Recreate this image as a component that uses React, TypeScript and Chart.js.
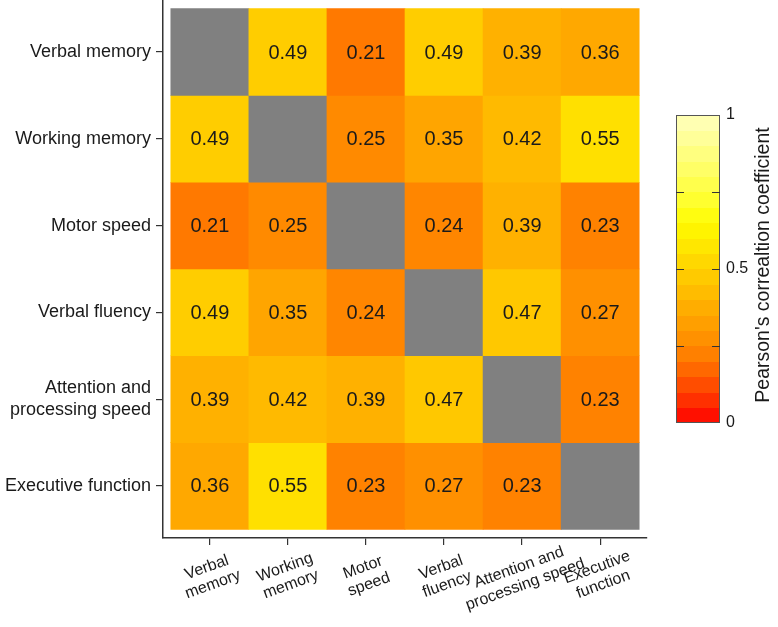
import { useEffect, useRef } from 'react';
import { Chart, registerables } from 'chart.js';

Chart.register(...registerables);

const rowLabels: (string | string[])[] = [
  'Verbal memory',
  'Working memory',
  'Motor speed',
  'Verbal fluency',
  ['Attention and', 'processing speed'],
  'Executive function',
];
const colLabels: string[][] = [
  ['Verbal', 'memory'],
  ['Working', 'memory'],
  ['Motor', 'speed'],
  ['Verbal', 'fluency'],
  ['Attention and', 'processing speed'],
  ['Executive', 'function'],
];

const rowVerbalMemory = [null, 0.49, 0.21, 0.49, 0.39, 0.36];
const rowWorkingMemory = [0.49, null, 0.25, 0.35, 0.42, 0.55];
const rowMotorSpeed = [0.21, 0.25, null, 0.24, 0.39, 0.23];
const rowVerbalFluency = [0.49, 0.35, 0.24, null, 0.47, 0.27];
const rowAttention = [0.39, 0.42, 0.39, 0.47, null, 0.23];
const rowExecutive = [0.36, 0.55, 0.23, 0.27, 0.23, null];
const matrix: (number | null)[][] = [
  rowVerbalMemory,
  rowWorkingMemory,
  rowMotorSpeed,
  rowVerbalFluency,
  rowAttention,
  rowExecutive,
];

const colorbarTicks = [0, 0.5, 1];
const colorbarInnerTicks = [0.25, 0.5, 0.75];
const colorbarTitle = "Pearson's correaltion coefficient";

const FONT = '"Liberation Sans", Arial, Helvetica, sans-serif';
const GRAY = '#808080';
const AXIS = '#333333';

const stops: [number, number, number, number][] = [
  [0.0, 255, 0, 0],
  [0.05, 255, 32, 0],
  [0.1, 255, 64, 0],
  [0.15, 255, 90, 0],
  [0.2, 255, 117, 0],
  [0.25, 255, 138, 0],
  [0.3, 255, 152, 0],
  [0.35, 255, 165, 0],
  [0.4, 255, 180, 0],
  [0.45, 255, 195, 0],
  [0.5, 255, 208, 0],
  [0.55, 255, 224, 0],
  [0.6, 255, 238, 0],
  [0.65, 255, 250, 0],
  [0.7, 255, 255, 32],
  [0.8, 255, 255, 90],
  [0.9, 255, 255, 140],
  [1.0, 255, 255, 190],
];

function heat(v: number): string {
  const t = Math.max(0, Math.min(1, v));
  for (let i = 0; i < stops.length - 1; i++) {
    const a = stops[i];
    const b = stops[i + 1];
    if (t >= a[0] && t <= b[0]) {
      const f = (t - a[0]) / (b[0] - a[0]);
      const r = Math.round(a[1] + (b[1] - a[1]) * f);
      const g = Math.round(a[2] + (b[2] - a[2]) * f);
      const bl = Math.round(a[3] + (b[3] - a[3]) * f);
      return `rgb(${r},${g},${bl})`;
    }
  }
  return 'rgb(255,255,190)';
}

const overlayPlugin = {
  id: 'overlay',
  afterDatasetsDraw(chart: any) {
    const ctx = chart.ctx as CanvasRenderingContext2D;
    const xs = chart.scales.x;
    const ys = chart.scales.y;
    ctx.save();
    // cell values
    ctx.fillStyle = '#1a1a1a';
    ctx.font = `20px ${FONT}`;
    ctx.textAlign = 'center';
    ctx.textBaseline = 'middle';
    matrix.forEach((row, i) => {
      row.forEach((v, j) => {
        if (v == null) return;
        const px = xs.getPixelForValue(j + 0.5);
        const py = ys.getPixelForValue(i + 0.5);
        ctx.fillText(v.toFixed(2), px, py + 1);
      });
    });
    // x labels rotated
    ctx.font = `16px ${FONT}`;
    colLabels.forEach((lines, j) => {
      const px = xs.getPixelForValue(j + 0.5);
      const py = chart.chartArea.bottom + 38;
      ctx.save();
      ctx.translate(px, py);
      ctx.rotate((-20 * Math.PI) / 180);
      const lh = 18;
      lines.forEach((ln, k) => {
        ctx.fillText(ln, 0, (k - (lines.length - 1) / 2) * lh);
      });
      ctx.restore();
    });
    // colorbar
    const cx0 = 676;
    const cx1 = 720;
    const cy0 = 115;
    const cy1 = 423;
    const H = cy1 - cy0;
    const bands = 20;
    for (let k = 0; k < bands; k++) {
      const yTop = cy1 - ((k + 1) / bands) * H;
      const yBot = cy1 - (k / bands) * H;
      ctx.fillStyle = heat((k + 0.5) / bands);
      ctx.fillRect(cx0, Math.floor(yTop), cx1 - cx0, Math.ceil(yBot) - Math.floor(yTop));
    }
    ctx.strokeStyle = '#555555';
    ctx.lineWidth = 1;
    ctx.strokeRect(cx0 + 0.5, cy0 + 0.5, cx1 - cx0 - 1, H - 1);
    ctx.strokeStyle = AXIS;
    ctx.lineWidth = 1.2;
    colorbarInnerTicks.forEach((t) => {
      const y = Math.round(cy1 - t * H) + 0.5;
      ctx.beginPath();
      ctx.moveTo(cx0, y);
      ctx.lineTo(cx0 + 8, y);
      ctx.moveTo(cx1 - 8, y);
      ctx.lineTo(cx1, y);
      ctx.stroke();
    });
    ctx.fillStyle = '#1a1a1a';
    ctx.font = `16px ${FONT}`;
    ctx.textAlign = 'left';
    ctx.textBaseline = 'middle';
    colorbarTicks.forEach((t) => {
      ctx.fillText(String(t), cx1 + 6, cy1 - t * H);
    });
    ctx.save();
    ctx.translate(764, 265);
    ctx.rotate(-Math.PI / 2);
    ctx.font = `19.5px ${FONT}`;
    ctx.textAlign = 'center';
    ctx.textBaseline = 'middle';
    ctx.fillText(colorbarTitle, 0, 0);
    ctx.restore();
    ctx.restore();
  },
};

export default function App() {
  const ref = useRef<HTMLCanvasElement | null>(null);
  useEffect(() => {
    document.body.style.margin = '0';
    const canvas = ref.current;
    if (!canvas) return;
    const datasets = matrix.map((row, i) => ({
      label: Array.isArray(rowLabels[i]) ? (rowLabels[i] as string[]).join(' ') : (rowLabels[i] as string),
      data: row.map((_, j) => ({ x: j + 0.5, y: 1 })),
      backgroundColor: row.map((v) => (v == null ? GRAY : heat(v))),
      borderWidth: 0,
      barPercentage: 1,
      categoryPercentage: 1,
      stack: 'heat',
    }));
    const centers = matrix.map((_, i) => i + 0.5);
    const chart = new Chart(canvas, {
      type: 'bar',
      data: { datasets },
      options: {
        animation: false,
        responsive: false,
        maintainAspectRatio: false,
        layout: { padding: { top: 0, right: 131, bottom: 0, left: 0 } },
        plugins: { legend: { display: false }, tooltip: { enabled: false } },
        scales: {
          x: {
            type: 'linear',
            offset: false,
            min: -0.1,
            max: 6.1,
            stacked: true,
            afterBuildTicks: (axis: any) => {
              axis.ticks = centers.map((v) => ({ value: v }));
            },
            afterFit: (axis: any) => {
              axis.height = 89;
              axis.paddingLeft = 0;
              axis.paddingRight = 0;
            },
            ticks: { display: false },
            grid: { offset: false, drawOnChartArea: false, drawTicks: true, tickLength: 7, tickColor: AXIS, lineWidth: 1.2 },
            border: { display: true, color: AXIS, width: 1.5 },
          },
          y: {
            type: 'linear',
            min: -0.1,
            max: 6.1,
            reverse: true,
            stacked: true,
            afterBuildTicks: (axis: any) => {
              axis.ticks = centers.map((v) => ({ value: v }));
            },
            afterFit: (axis: any) => {
              axis.width = 163;
              axis.paddingTop = 0;
              axis.paddingBottom = 0;
            },
            ticks: {
              padding: 5,
              color: '#1a1a1a',
              font: { family: FONT, size: 18 },
              callback: (value: any) => rowLabels[Math.round(Number(value) - 0.5)],
            },
            grid: { drawOnChartArea: false, drawTicks: true, tickLength: 7, tickColor: AXIS, lineWidth: 1.2 },
            border: { display: true, color: AXIS, width: 1.5 },
          },
        },
      },
      plugins: [overlayPlugin],
    } as any);
    return () => chart.destroy();
  }, []);
  return <canvas ref={ref} width={778} height={627} style={{ display: 'block' }} />;
}
